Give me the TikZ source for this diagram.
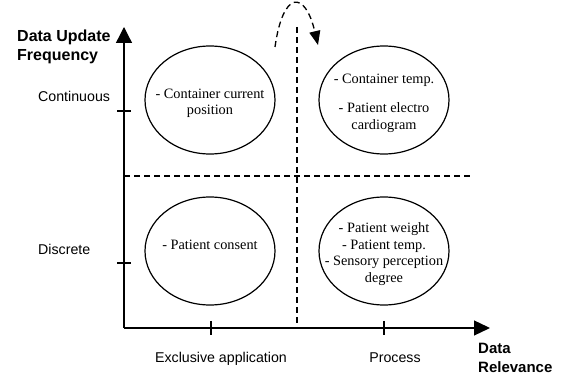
\documentclass[tikz,border=0pt]{standalone}
\usepackage{fontspec}
\setmainfont{Liberation Serif}
\setsansfont{Liberation Sans}
\usetikzlibrary{shapes.geometric}
\usetikzlibrary{arrows.meta}
\newcommand{\lift}{\rule{0pt}{16pt}}

\begin{document}
\begin{tikzpicture}[x=1pt, y=-1pt,
    blob/.style = {ellipse, draw, line width=1.2pt, minimum width=130pt,
                minimum height=108pt, inner xsep=-20pt, inner ysep=-10pt,
                align=center, font=\fontsize{14.3}{16.7}\selectfont},
    axis/.style = {line width=1.3pt},
    split/.style = {line width=1.3pt, dash pattern=on 6pt off 4pt},
    lbl/.style = {font=\sffamily\fontsize{14.2}{17}\selectfont, inner sep=0pt},
    ttl/.style = {font=\sffamily\bfseries\fontsize{#1}{18.5}\selectfont,
                inner sep=0pt, align=left},
    ttl/.default = 16  % title font size
                    ]
    \useasboundingbox (0,0) rectangle (563,379);
    \def\ox{124}
    \def\oy{328}
    \def\tk{7}
    % axes
    \coordinate (O) at (\ox,\oy);
    \coordinate (ytop) at (\ox,27);
    \coordinate (xend) at (490,\oy);
    \draw [axis,-{Triangle[length=16pt,width=16pt]}] (O) -- (ytop);
    \draw [axis,-{Triangle[length=16pt,width=15pt]}] (O) -- (xend);
    \foreach \y/\n in {111/cont, 263/disc}
        \draw [axis] (\ox-\tk,\y) coordinate (\n-l) -- (\ox+\tk,\y) coordinate (\n-r);
    \foreach \x/\n in {211/excl, 384/proc}
        \draw [axis] (\x,\oy-\tk) coordinate (\n-t) -- (\x,\oy+\tk) coordinate (\n-b);
    % quadrant split
    \coordinate (hl) at (\ox,176);
    \coordinate (hr) at (470,176);
    \coordinate (vt) at (297,27);
    \coordinate (vb) at (297,\oy);
    \draw [split] (hl) -- (hr);
    \draw [split] (vt) -- (vb);
    % hop arrow
    \coordinate (hs) at (275,47);
    \coordinate (he) at (318,45);
    \draw [split,-{Triangle[length=14pt,width=11pt]}] (hs) .. controls (283,-10) and (305,-10) .. (he);
    % axis labels
    \node [ttl, anchor=north west] (yname) at (17,30) {Data Update\\Frequency};
    \node [ttl=15, anchor=north west] (xname) at (478,343) {Data\\Relevance};
    \node [lbl, anchor=base west] (continuous) at (38,102) {Continuous};
    \node [lbl, anchor=base west] (discrete) at (38,255) {Discrete};
    \node [lbl, anchor=base] (exclusive) at (221,363) {Exclusive application};
    \node [lbl, anchor=base] (process) at (395,363) {Process};
    % quadrants
    \node [blob] (a) at (210,100) {\lift- Container current\\position};
    \node [blob] (b) at (384,100) {\lift- Container temp.\\[13pt]- Patient electro\\cardiogram};
    \node [blob] (c) at (210,251) {\raisebox{1pt}[0pt][0pt]{- Patient consent}};
    \node [blob] (d) at (384,251) {\lift- Patient weight\\- Patient temp.\\- Sensory perception\\degree};
\end{tikzpicture}
\end{document}
